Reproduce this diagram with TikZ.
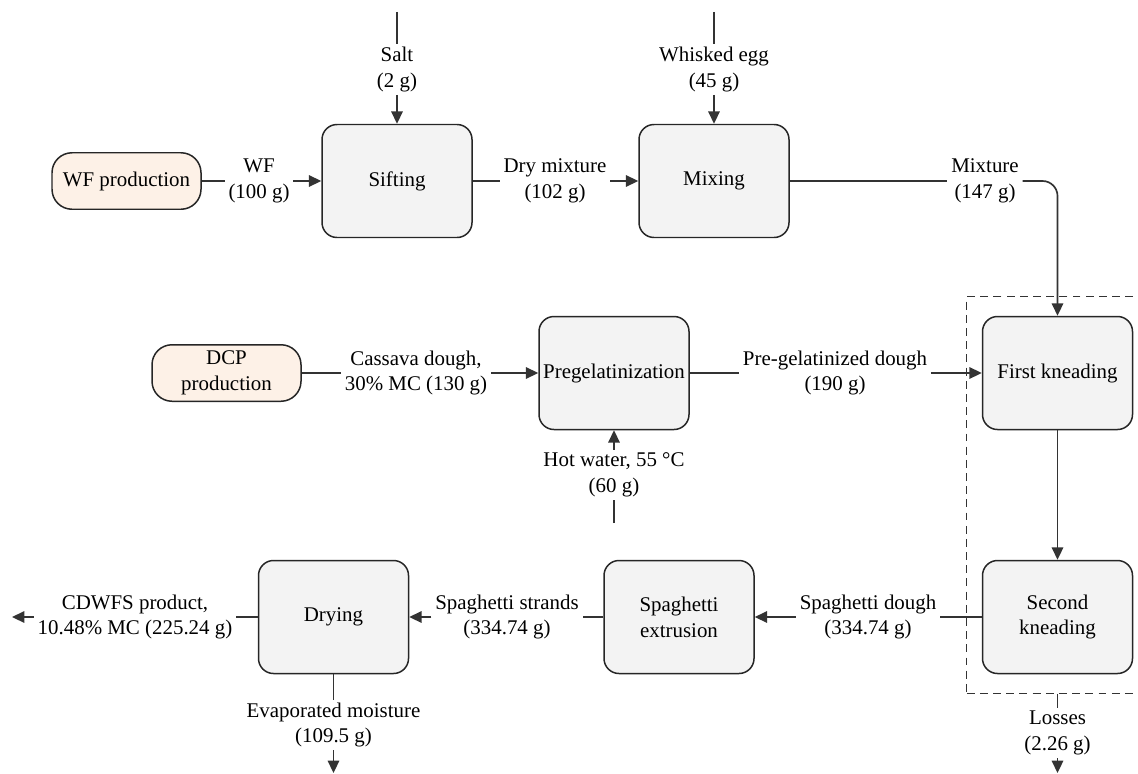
\documentclass[tikz,border=0pt]{standalone}
\usepackage{fontspec}
\setmainfont{Liberation Serif}
\usetikzlibrary{arrows.meta,fit}
\definecolor{procfill}{HTML}{F3F3F3}
\definecolor{srcfill}{HTML}{FDF1E7}
\definecolor{linegray}{HTML}{333333}
\begin{document}
\begin{tikzpicture}[
    process/.style ={rectangle, draw=black!85, fill=procfill, line width=0.85pt, rounded corners=0.3cm, minimum width=3cm, minimum height=2.26cm, inner sep=1pt, align=center},
    source/.style ={rectangle, draw=black!85, fill=srcfill, line width=0.85pt, rounded corners=0.4cm, minimum width=2.98cm, minimum height=1.13cm, inner sep=1pt, align=center},
    stream/.style ={inner xsep=2pt, inner ysep=1.5pt, align=center},
    flow/.style ={draw=linegray, line width=0.95pt},
    feed/.style ={flow, -{Triangle[length=7pt,width=6.5pt]}},
    groupbox/.style ={draw=black!80, dash pattern=on 4.5pt off 3pt, line width=0.8pt, inner xsep=0.3cm, inner ysep=0.38cm},
    font=\fontsize{11.9}{14.7}\selectfont]
   \clip (0,0) rectangle (22.76,15.46);
   % units and operations
   \node[source]  (wfprod) at (2.53,11.84) {WF production};
   \node[process] (sift)   at (7.94,11.84) {Sifting};
   \node[process] (mix)    at (14.28,11.84) {Mixing};
   \node[source]  (dcp)    at (4.53,8.0)  {DCP\\production};
   \node[process] (pregel) at (12.28,8.0) {Pregelatinization};
   \node[process] (knead1) at (21.15,8.0) {First kneading};
   \node[process] (knead2) at (21.15,3.12) {Second\\kneading};
   \node[process] (extr)   at (13.58,3.12) {Spaghetti\\extrusion};
   \node[process] (dry)    at (6.67,3.12) {Drying};
   \node[groupbox, fit=(knead1)(knead2)] (kneadgrp) {};
   % streams
   \node[stream] (salt)     at (7.94,14.07)  {Salt\\(2 g)};
   \node[stream] (egg)      at (14.28,14.07) {Whisked egg\\(45 g)};
   \node[stream] (wf)       at (5.18,11.84)  {WF\\(100 g)};
   \node[stream] (drymix)   at (11.10,11.84) {Dry mixture\\(102 g)};
   \node[stream] (mixture)  at (19.70,11.84) {Mixture\\(147 g)};
   \node[stream] (cassava)  at (8.32,8.0)    {Cassava dough,\\30\% MC (130 g)};
   \node[stream] (pgdough)  at (16.70,8.0)   {Pre-gelatinized dough\\(190 g)};
   \node[stream] (hotwater) at (12.28,5.96)  {Hot water, 55 °C\\(60 g)};
   \node[stream] (spdough)  at (17.36,3.12)  {Spaghetti dough\\(334.74 g)};
   \node[stream] (strands)  at (10.14,3.12)  {Spaghetti strands\\(334.74 g)};
   \node[stream] (cdwfs)    at (2.70,3.12)   {CDWFS product,\\10.48\% MC (225.24 g)};
   \node[stream] (evap)     at (6.67,0.96)   {Evaporated moisture\\(109.5 g)};
   \node[stream] (losses)   at (21.15,0.80)  {Losses\\(2.26 g)};
   \coordinate (salttop) at (7.94,15.22);
   \coordinate (eggtop)  at (14.28,15.22);
   \coordinate (hwend)   at (12.28,5.0);
   \coordinate (cdwfsend) at (0.24,3.12);
   \coordinate (evapend) at (6.67,0);
   \coordinate (lossend) at (21.15,0);
   % connectors
   \draw[flow] (salttop) -- (salt);
   \draw[feed] (salt) -- (sift);
   \draw[flow] (eggtop) -- (egg);
   \draw[feed] (egg) -- (mix);
   \draw[flow] (wfprod) -- (wf);
   \draw[feed] (wf) -- (sift);
   \draw[flow] (sift) -- (drymix);
   \draw[feed] (drymix) -- (mix);
   \draw[flow] (mix) -- (mixture);
   \draw[feed, rounded corners=0.3cm] (mixture) -| (knead1);
   \draw[flow] (dcp) -- (cassava);
   \draw[feed] (cassava) -- (pregel);
   \draw[flow] (hwend) -- (hotwater);
   \draw[feed] (hotwater) -- (pregel);
   \draw[flow] (pregel) -- (pgdough);
   \draw[feed] (pgdough) -- (knead1);
   \draw[feed] (knead1) -- (knead2);
   \draw[flow] (knead2) -- (spdough);
   \draw[feed] (spdough) -- (extr);
   \draw[flow] (extr) -- (strands);
   \draw[feed] (strands) -- (dry);
   \draw[flow] (dry) -- (cdwfs);
   \draw[feed] (cdwfs) -- (cdwfsend);
   \draw[flow] (dry) -- (evap);
   \draw[feed] (evap) -- (evapend);
   \draw[flow] (kneadgrp) -- (losses);
   \draw[feed] (losses) -- (lossend);
\end{tikzpicture}
\end{document}
